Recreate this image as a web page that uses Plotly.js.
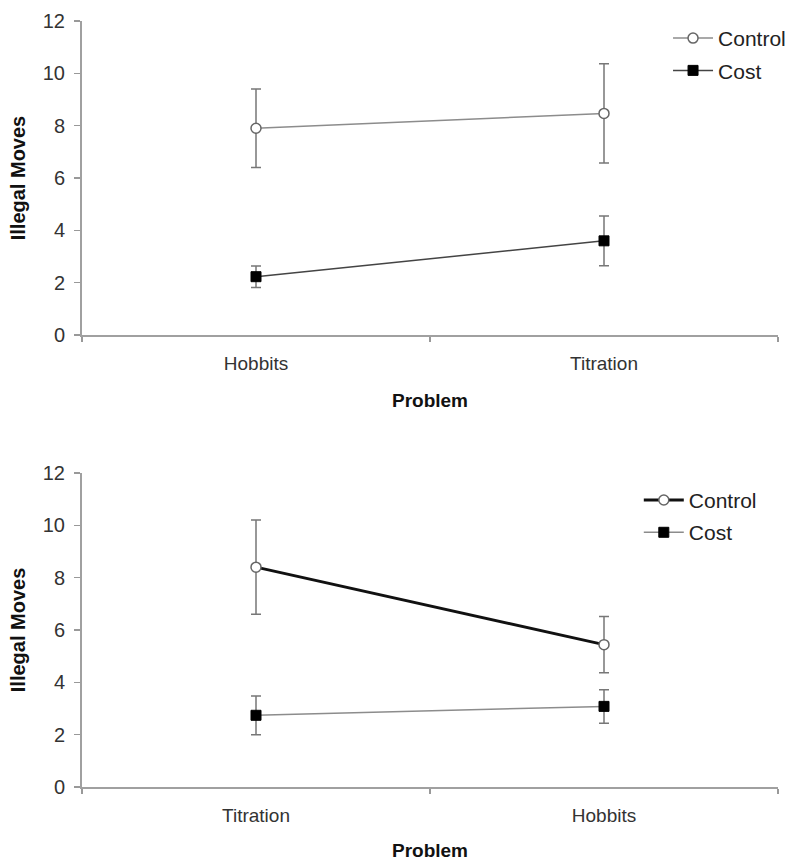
<!DOCTYPE html>
<html>
<head>
<meta charset="utf-8">
<script src="https://cdn.plot.ly/plotly-3.0.1.min.js"></script>
<style>html,body{margin:0;padding:0;background:#fff;}#chart{width:790px;height:861px;}</style>
</head>
<body>
<div id="chart"></div>
<script>
// Top panel: Hobbits first, then Titration
const topCategories = ["Hobbits", "Titration"];
const topControl = [7.9, 8.47];
const topControlErr = [1.5, 1.9];
const topCost = [2.23, 3.6];
const topCostErr = [0.41, 0.95];

// Bottom panel: Titration first, then Hobbits
const bottomCategories = ["Titration", "Hobbits"];
const bottomControl = [8.4, 5.44];
const bottomControlErr = [1.8, 1.07];
const bottomCost = [2.74, 3.08];
const bottomCostErr = [0.74, 0.64];

const seriesNames = ["Control", "Cost"];
const yTickValues = [0, 2, 4, 6, 8, 10, 12];

const FONT = "Liberation Sans, Arial, sans-serif";
const errStyle = {color: "#777", thickness: 1.5, width: 5};
const controlMarker = {symbol: "circle", size: 10, color: "#ffffff", line: {color: "#666", width: 1.5}};
const costMarker = {symbol: "square", size: 10, color: "#000000", line: {color: "#000", width: 1}};

const traces = [
  {x: topCategories, y: topControl, name: seriesNames[0], type: "scatter", mode: "lines+markers",
   xaxis: "x", yaxis: "y", legend: "legend", legendgroup: "g1",
   line: {color: "#8c8c8c", width: 1.5}, marker: controlMarker,
   error_y: Object.assign({type: "data", array: topControlErr, visible: true}, errStyle)},
  {x: topCategories, y: topCost, name: seriesNames[1], type: "scatter", mode: "lines+markers",
   xaxis: "x", yaxis: "y", legend: "legend", legendgroup: "g2",
   line: {color: "#444", width: 1.5}, marker: costMarker,
   error_y: Object.assign({type: "data", array: topCostErr, visible: true}, errStyle)},
  {x: bottomCategories, y: bottomControl, name: seriesNames[0], type: "scatter", mode: "lines+markers",
   xaxis: "x2", yaxis: "y2", legend: "legend2", legendgroup: "g3",
   line: {color: "#111", width: 3}, marker: controlMarker,
   error_y: Object.assign({type: "data", array: bottomControlErr, visible: true}, errStyle)},
  {x: bottomCategories, y: bottomCost, name: seriesNames[1], type: "scatter", mode: "lines+markers",
   xaxis: "x2", yaxis: "y2", legend: "legend2", legendgroup: "g4",
   line: {color: "#8c8c8c", width: 1.5}, marker: costMarker,
   error_y: Object.assign({type: "data", array: bottomCostErr, visible: true}, errStyle)}
];

function xAxis(anchor, cats) {
  return {
    anchor: anchor, domain: [0, 1], type: "category", categoryarray: cats, categoryorder: "array",
    range: [-0.5, 1.5], tickson: "boundaries", ticks: "outside", ticklen: 5, tickcolor: "#999",
    tickwidth: 1.5, showline: true, linecolor: "#a0a0a0", linewidth: 2, showgrid: false, zeroline: false,
    tickfont: {family: FONT, size: 19, color: "#333"}, ticklabelstandoff: 10,
    title: {text: "<b>Problem</b>", font: {family: FONT, size: 19, color: "#111"}, standoff: 21}
  };
}
function yAxis(anchor, domain) {
  return {
    anchor: anchor, domain: domain, range: [0, 12], tickvals: yTickValues, ticks: "outside", ticklen: 6,
    tickcolor: "#999", tickwidth: 1.5, showline: true, linecolor: "#a0a0a0", linewidth: 2,
    showgrid: false, zeroline: false, tickfont: {family: FONT, size: 20, color: "#333"},
    ticklabelstandoff: 5,
    title: {text: "<b>Illegal Moves</b>", font: {family: FONT, size: 20, color: "#111"}, standoff: 12}
  };
}

const layout = {
  width: 790, height: 861,
  margin: {l: 82, r: 12, t: 21, b: 74, autoexpand: false},
  paper_bgcolor: "#ffffff", plot_bgcolor: "#ffffff",
  showlegend: true,
  xaxis: xAxis("y", topCategories),
  yaxis: yAxis("x", [0.59, 1]),
  xaxis2: xAxis("y2", bottomCategories),
  yaxis2: yAxis("x2", [0, 0.41]),
  legend: {x: 0.842, y: 1.004, xanchor: "left", yanchor: "top", bgcolor: "rgba(0,0,0,0)",
           font: {family: FONT, size: 21, color: "#222"}, itemwidth: 40, tracegroupgap: 2},
  legend2: {x: 0.80, y: 0.401, xanchor: "left", yanchor: "top", bgcolor: "rgba(0,0,0,0)",
           font: {family: FONT, size: 21, color: "#222"}, itemwidth: 40, tracegroupgap: 2}
};

Plotly.newPlot("chart", traces, layout, {displayModeBar: false, staticPlot: true});
</script>
</body>
</html>
